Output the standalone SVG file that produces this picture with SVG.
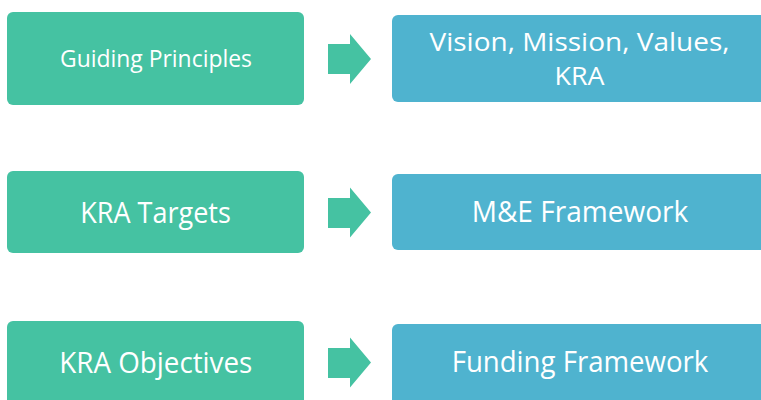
<svg xmlns="http://www.w3.org/2000/svg" width="761" height="400" viewBox="0 0 761 400">
<style>
.g{fill:#45C2A2}
.b{fill:#4FB3CF}
.t{fill:#FFFFFF;font-family:"Open Sans","Liberation Sans",sans-serif;text-anchor:middle}
.a{fill:#45C2A2}
</style>
<rect width="761" height="400" fill="#FFFFFF"/>
<g id="connectors">
<polygon class="a" points="328,44 350,44 350,34 371,59 350,84 350,74 328,74"/>
<polygon class="a" points="328,198 350,198 350,187.5 371,212.5 350,237.5 350,228 328,228"/>
<polygon class="a" points="328,348 350,348 350,337.5 371,362.5 350,387.5 350,378 328,378"/>
</g>
<g id="guiding-principles">
<rect class="g" x="7" y="12" width="297" height="93" rx="6"/>
<text class="t" x="156" y="66.5" font-size="23.4" textLength="192" lengthAdjust="spacingAndGlyphs">Guiding Principles</text>
</g>
<g id="vision-mission">
<rect class="b" x="392" y="15" width="380" height="87" rx="6"/>
<text class="t" x="579.5" y="51" font-size="25.5" textLength="300" lengthAdjust="spacingAndGlyphs">Vision, Mission, Values,</text>
<text class="t" x="579.5" y="85" font-size="25.5" textLength="50" lengthAdjust="spacingAndGlyphs">KRA</text>
</g>
<g id="kra-targets">
<rect class="g" x="7" y="171" width="297" height="82" rx="6"/>
<text class="t" x="155.5" y="222.5" font-size="28.5" textLength="150.7" lengthAdjust="spacingAndGlyphs">KRA Targets</text>
</g>
<g id="me-framework">
<rect class="b" x="392" y="174" width="380" height="76" rx="6"/>
<text class="t" x="580" y="221.7" font-size="28.5" textLength="216.7" lengthAdjust="spacingAndGlyphs">M&amp;E Framework</text>
</g>
<g id="kra-objectives">
<rect class="g" x="7" y="321" width="297" height="90" rx="6"/>
<text class="t" x="155.8" y="372.5" font-size="28.5" textLength="193" lengthAdjust="spacingAndGlyphs">KRA Objectives</text>
</g>
<g id="funding-framework">
<rect class="b" x="392" y="324" width="380" height="90" rx="6"/>
<text class="t" x="580" y="371.7" font-size="28.5" textLength="256.7" lengthAdjust="spacingAndGlyphs">Funding Framework</text>
</g>
</svg>
